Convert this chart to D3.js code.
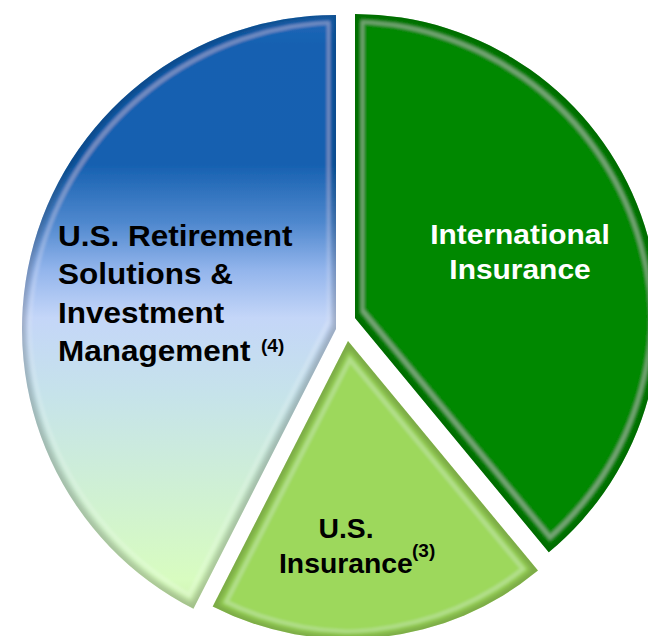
<!DOCTYPE html>
<html>
<head>
<meta charset="utf-8">
<script src="https://cdn.jsdelivr.net/npm/d3@7"></script>
<style>
  body { margin: 0; background: #fff; }
  svg { display: block; }
  text { font-family: "Liberation Sans", Arial, sans-serif; font-weight: bold; }
</style>
</head>
<body>
<div id="chart"></div>
<script>
// segments, clockwise from 12 o'clock
var segments = ["International Insurance", "U.S. Insurance", "U.S. Retirement Solutions & Investment Management"];
var shares = [39, 18.5, 42.5];

var width = 648, height = 636;
var center = [346, 330];

// per-slice look (exploded offset, radius, fill)
var offsets = [[9, -12], [2, 11], [-10, -1]];
var radii = [304, 298, 314];
var fills = ["#068806", "#9dd85c", "url(#blueGrad)"];

var svg = d3.select("#chart").append("svg")
  .attr("width", width)
  .attr("height", height);

var defs = svg.append("defs");

// blue to pale green fade for the retirement slice
var grad = defs.append("linearGradient")
  .attr("id", "blueGrad")
  .attr("x1", 0).attr("y1", 0).attr("x2", 0).attr("y2", 1);
[[0, "#2068b8"], [0.05, "#1561b1"], [0.25, "#1560b0"], [0.35, "#4f88ce"],
 [0.43, "#93b5ec"], [0.51, "#c4d6f8"], [0.64, "#c6e3ea"], [0.8, "#cff0d4"],
 [0.95, "#d8fcc0"], [1, "#cdf2ae"]].forEach(function (s) {
  grad.append("stop").attr("offset", s[0]).attr("stop-color", s[1]);
});

// soft bevel: dark rim on the edge, faint light line just inside
var f = defs.append("filter").attr("id", "bevel")
  .attr("x", "-5%").attr("y", "-5%").attr("width", "110%").attr("height", "110%");
f.append("feMorphology").attr("in", "SourceAlpha").attr("operator", "erode").attr("radius", 4).attr("result", "e4");
f.append("feGaussianBlur").attr("in", "e4").attr("stdDeviation", 2.5).attr("result", "e4b");
f.append("feComposite").attr("in", "SourceAlpha").attr("in2", "e4b").attr("operator", "out").attr("result", "rim");
f.append("feFlood").attr("flood-color", "#000").attr("flood-opacity", 0.4);
f.append("feComposite").attr("in2", "rim").attr("operator", "in").attr("result", "rimDark");
f.append("feMorphology").attr("in", "SourceAlpha").attr("operator", "erode").attr("radius", 6).attr("result", "e6");
f.append("feMorphology").attr("in", "SourceAlpha").attr("operator", "erode").attr("radius", 9).attr("result", "e9");
f.append("feComposite").attr("in", "e6").attr("in2", "e9").attr("operator", "out").attr("result", "ring");
f.append("feGaussianBlur").attr("in", "ring").attr("stdDeviation", 1.8).attr("result", "ringb");
f.append("feFlood").attr("flood-color", "#fff").attr("flood-opacity", 0.18);
f.append("feComposite").attr("in2", "ringb").attr("operator", "in").attr("result", "hl");
var merge = f.append("feMerge");
merge.append("feMergeNode").attr("in", "SourceGraphic");
merge.append("feMergeNode").attr("in", "rimDark");
merge.append("feMergeNode").attr("in", "hl");

var pie = d3.pie().sort(null).value(function (d) { return d; });
var arcs = pie(shares);

var slices = svg.selectAll(".slice")
  .data(arcs)
  .enter()
  .append("g")
  .attr("class", "slice")
  .attr("transform", function (d, i) {
    return "translate(" + (center[0] + offsets[i][0]) + "," + (center[1] + offsets[i][1]) + ")";
  });

slices.append("path")
  .attr("d", function (d, i) {
    return d3.arc().innerRadius(0).outerRadius(radii[i])(d);
  })
  .attr("fill", function (d, i) { return fills[i]; })
  .attr("filter", "url(#bevel)");

// labels
var left = svg.append("text")
  .attr("transform", "translate(58,0) scale(1.05,1)")
  .attr("font-size", 30)
  .attr("fill", "#000");
["U.S. Retirement", "Solutions &", "Investment", "Management"].forEach(function (t, i) {
  left.append("tspan").attr("x", 0).attr("y", 246 + i * 38.5).text(t);
});
svg.append("text")
  .attr("x", 261).attr("y", 352)
  .attr("font-size", 19)
  .text("(4)");

var intl = svg.append("text")
  .attr("transform", "translate(520,0) scale(1.05,1)")
  .attr("font-size", 28.5)
  .attr("fill", "#fff")
  .attr("text-anchor", "middle");
["International", "Insurance"].forEach(function (t, i) {
  intl.append("tspan").attr("x", 0).attr("y", 244 + i * 35).text(t);
});

svg.append("text")
  .attr("transform", "translate(346,0) scale(1.05,1)")
  .attr("font-size", 27)
  .attr("text-anchor", "middle")
  .attr("x", 0).attr("y", 538)
  .text("U.S.");
svg.append("text")
  .attr("transform", "translate(279,0) scale(1.05,1)")
  .attr("font-size", 27)
  .attr("x", 0).attr("y", 573)
  .text("Insurance");
svg.append("text")
  .attr("x", 412).attr("y", 557)
  .attr("font-size", 19)
  .text("(3)");
</script>
</body>
</html>
